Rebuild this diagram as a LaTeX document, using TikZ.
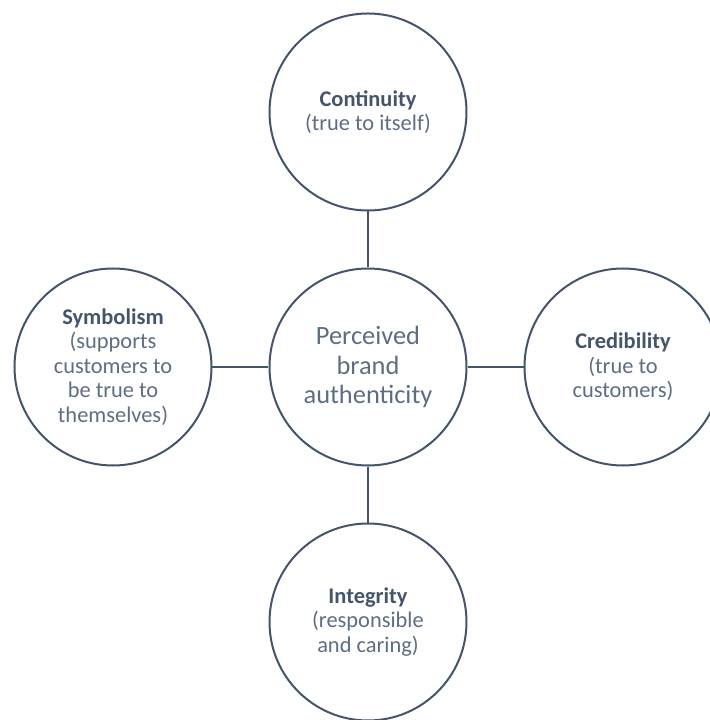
\documentclass[tikz,border=0pt]{standalone}
\usepackage{fontspec}
\setmainfont{Carlito}
\usepackage{xcolor}
\definecolor{slate}{HTML}{44546A}
\definecolor{slatetext}{HTML}{5E6D82}

\begin{document}
\begin{tikzpicture}[x=1bp,y=1bp,
    facet/.style={circle,draw=slate,line width=2bp,minimum size=197bp,inner sep=0pt,
        align=center,text=slatetext,font=\fontsize{22.5}{24.5}\selectfont},
    core/.style={facet,font=\fontsize{26.5}{30}\selectfont},
    link/.style={draw=slate,line width=2bp}]
    % Circle spacing
    \def\spread{255}

    % Fix the page size
    \useasboundingbox (-368,-353) rectangle (342,367);

    % Centre circle
    \node[core] (authenticity) at (0,0) {Perceived\\brand\\authenticity};

    % Four outer circles
    \node[facet] (continuity) at (0,\spread) {\textbf{\color{slate}Continuity}\\(true to itself)};
    \node[facet] (credibility) at (\spread,0) {\textbf{\color{slate}Credibility}\\(true to\\customers)};
    \node[facet] (integrity) at (0,-\spread) {\textbf{\color{slate}Integrity}\\(responsible\\and caring)};
    \node[facet] (symbolism) at (-\spread,0) {\textbf{\color{slate}Symbolism}\\(supports\\customers to\\be true to\\themselves)};

    % Connectors
    \draw[link] (authenticity) -- (continuity);
    \draw[link] (authenticity) -- (credibility);
    \draw[link] (authenticity) -- (integrity);
    \draw[link] (authenticity) -- (symbolism);

\end{tikzpicture}
\end{document}
